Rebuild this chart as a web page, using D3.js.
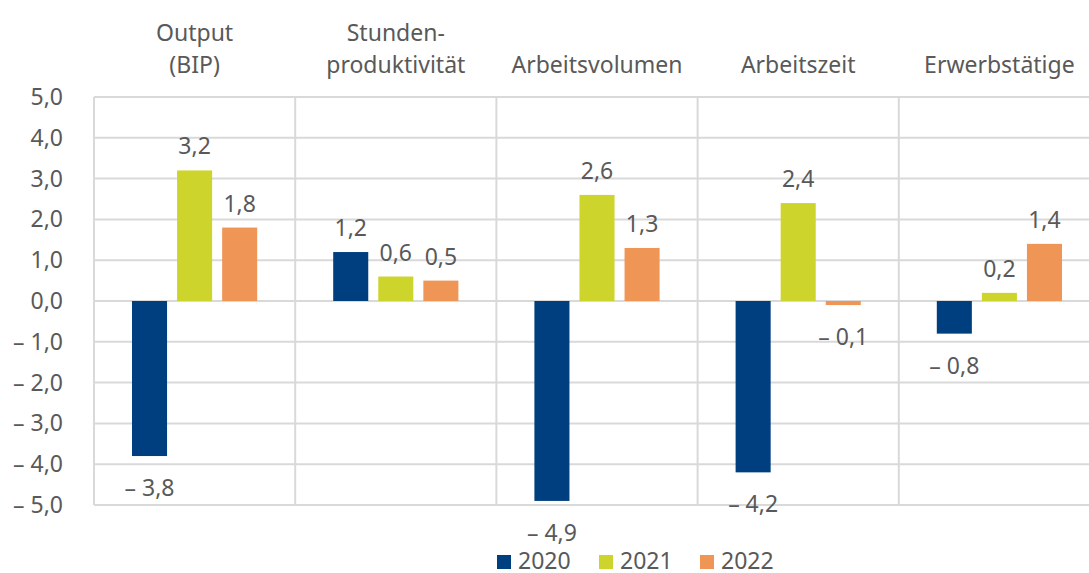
<!DOCTYPE html>
<html>
<head>
<meta charset="utf-8">
<script src="https://cdn.jsdelivr.net/npm/d3@7"></script>
<style>
  html, body { margin: 0; padding: 0; background: #fff; }
  svg { display: block; }
  text { font-family: "Noto Sans", "Open Sans", sans-serif; fill: #595959; }
</style>
</head>
<body>
<svg id="chart" width="1089" height="573"></svg>
<script>
// ---- data ----
const categories = [["Output", "(BIP)"], ["Stunden-", "produktivität"], ["Arbeitsvolumen"], ["Arbeitszeit"], ["Erwerbstätige"]];
const seriesNames = ["2020", "2021", "2022"];
const values2020 = [-3.8, 1.2, -4.9, -4.2, -0.8];
const values2021 = [3.2, 0.6, 2.6, 2.4, 0.2];
const values2022 = [1.8, 0.5, 1.3, -0.1, 1.4];
const yTicks = [5, 4, 3, 2, 1, 0, -1, -2, -3, -4, -5];
const colors = ["#003f7f", "#cdd52c", "#ef9657"];

const seriesValues = [values2020, values2021, values2022];

const svg = d3.select("#chart");
const plotLeft = 94, plotRight = 1100, plotTop = 97, plotBottom = 505;
const fs = "23px";

const x = d3.scaleBand().domain(d3.range(categories.length)).range([plotLeft, plotRight]).paddingInner(0).paddingOuter(0);
const y = d3.scaleLinear().domain([-5, 5]).range([plotBottom, plotTop]);

const groupPad = 38;
const xs = d3.scaleBand().domain(seriesNames).range([0, x.bandwidth() - 2 * groupPad]).paddingInner(10 / 45);

const fmt = v => (v < 0 ? "\u2013 " : "") + Math.abs(v).toFixed(1).replace(".", ",");

// horizontal gridlines
svg.append("g").selectAll("line").data(yTicks).join("line")
  .attr("x1", plotLeft).attr("x2", plotRight)
  .attr("y1", d => y(d)).attr("y2", d => y(d))
  .attr("stroke", "#d9d9d9").attr("stroke-width", 2);

// vertical separators
svg.append("g").selectAll("line").data(d3.range(categories.length + 1)).join("line")
  .attr("x1", d => plotLeft + d * x.bandwidth()).attr("x2", d => plotLeft + d * x.bandwidth())
  .attr("y1", plotTop).attr("y2", plotBottom)
  .attr("stroke", "#d9d9d9").attr("stroke-width", 2);

// y tick labels
svg.append("g").selectAll("text").data(yTicks).join("text")
  .attr("x", 63).attr("y", d => y(d) + 8)
  .attr("text-anchor", "end")
  .style("font-size", fs)
  .text(d => fmt(d));

// category labels
const catG = svg.append("g");
categories.forEach((lines, i) => {
  const cx = x(i) + x.bandwidth() / 2;
  const t = catG.append("text").attr("text-anchor", "middle").style("font-size", fs);
  const n = lines.length;
  lines.forEach((l, j) => {
    t.append("tspan").attr("x", cx).attr("y", 73 - (n - 1 - j) * 32).text(l);
  });
});

// bars
seriesValues.forEach((vals, s) => {
  const g = svg.append("g");
  g.selectAll("rect").data(vals).join("rect")
    .attr("x", (d, i) => x(i) + groupPad + xs(seriesNames[s]))
    .attr("width", xs.bandwidth())
    .attr("y", d => y(Math.max(0, d)))
    .attr("height", d => Math.abs(y(d) - y(0)))
    .attr("fill", colors[s]);
  g.selectAll("text").data(vals).join("text")
    .attr("x", (d, i) => x(i) + groupPad + xs(seriesNames[s]) + xs.bandwidth() / 2)
    .attr("y", d => d >= 0 ? y(d) - 16 : y(d) + 40)
    .attr("text-anchor", "middle")
    .style("font-size", fs)
    .text(d => fmt(d));
});

// legend
const legendX = [497, 599, 700];
const lg = svg.append("g");
seriesNames.forEach((name, i) => {
  lg.append("rect").attr("x", legendX[i]).attr("y", 555).attr("width", 14).attr("height", 14).attr("fill", colors[i]);
  lg.append("text").attr("x", legendX[i] + 21).attr("y", 569).style("font-size", fs).text(name);
});
</script>
</body>
</html>
